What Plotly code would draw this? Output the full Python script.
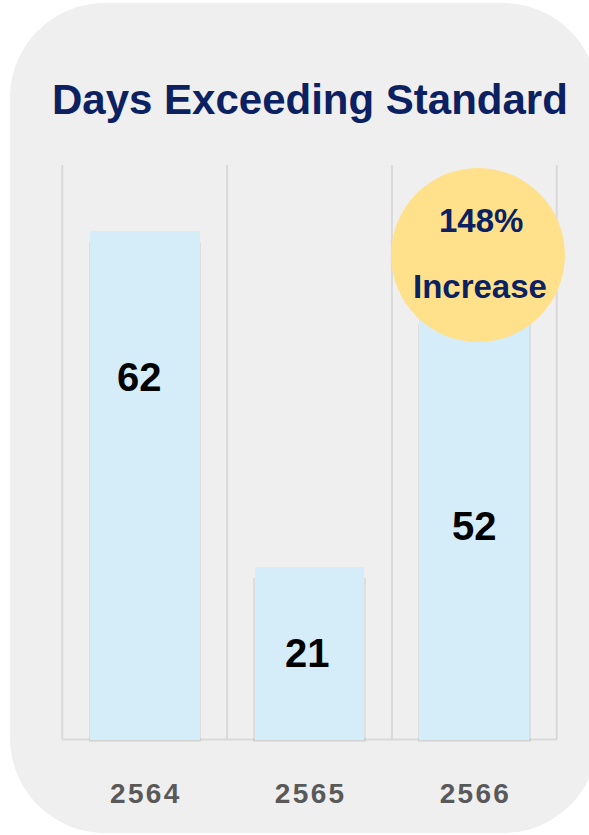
import plotly.graph_objects as go

# ---- data ----
categories = ["2564", "2565", "2566"]
values = [62, 21, 52]
badge_pct = "148%"
badge_word = "Increase"
title_text = "Days Exceeding Standard"

# ---- layout geometry (pixels) ----
FIG_W, FIG_H = 589, 835
L, R, T, B = 59, 29, 165, 93
PW = FIG_W - L - R
PH = FIG_H - T - B

def px(xp):
    return (xp - L) / PW

def py(yp):
    return (FIG_H - B - yp) / PH

def rounded_rect(x0, y0, x1, y1, r):
    k = 0.5523 * r
    def P(x, y):
        return f"{px(x):.5f},{py(y):.5f}"
    d = f"M {P(x0 + r, y0)} L {P(x1 - r, y0)} "
    d += f"C {P(x1 - r + k, y0)} {P(x1, y0 + r - k)} {P(x1, y0 + r)} "
    d += f"L {P(x1, y1 - r)} "
    d += f"C {P(x1, y1 - r + k)} {P(x1 - r + k, y1)} {P(x1 - r, y1)} "
    d += f"L {P(x0 + r, y1)} "
    d += f"C {P(x0 + r - k, y1)} {P(x0, y1 - r + k)} {P(x0, y1 - r)} "
    d += f"L {P(x0, y0 + r)} "
    d += f"C {P(x0, y0 + r - k)} {P(x0 + r - k, y0)} {P(x0 + r, y0)} Z"
    return d

NAVY = "#0B2161"
FONT = "Liberation Sans, Arial, sans-serif"
xpos = list(range(len(categories)))

fig = go.Figure()

# soft shadow behind the bars
fig.add_trace(go.Bar(
    x=xpos, y=[v - 1.0 for v in values], base=-0.35,
    width=0.682, marker=dict(color="rgba(0,0,0,0.07)", line=dict(width=0)),
    hoverinfo="skip", showlegend=False,
))
fig.add_trace(go.Bar(
    x=xpos, y=values, width=0.667,
    marker=dict(color="#D4EDF8", line=dict(width=0)),
    hoverinfo="skip", showlegend=False,
))

shapes = [
    dict(type="path", xref="paper", yref="paper", layer="below",
         path=rounded_rect(10, 3, 598, 833, 95),
         fillcolor="#EFEFEF", line=dict(width=0)),
]
# category boundary gridlines
for i in range(len(categories) + 1):
    shapes.append(dict(type="line", xref="x", yref="y", layer="below",
                       x0=i - 0.5, x1=i - 0.5, y0=0, y1=70,
                       line=dict(color="#D9D9D9", width=2)))
# baseline
shapes.append(dict(type="line", xref="x", yref="y", layer="below",
                   x0=-0.5, x1=len(categories) - 0.5, y0=0, y1=0,
                   line=dict(color="#D9D9D9", width=2)))
# badge circle
cx, cy, cr = 478, 255, 87
shapes.append(dict(type="circle", xref="paper", yref="paper", layer="above",
                   x0=px(cx - cr), x1=px(cx + cr), y0=py(cy + cr), y1=py(cy - cr),
                   fillcolor="#FFE18C", line=dict(width=0)))

annotations = [
    dict(text=title_text, xref="paper", yref="paper", x=px(310), y=py(99),
         xanchor="center", yanchor="middle", showarrow=False,
         font=dict(family=FONT, size=42, color=NAVY, weight="bold")),
    dict(text=badge_pct, xref="paper", yref="paper", x=px(481), y=py(221),
         xanchor="center", yanchor="middle", showarrow=False,
         font=dict(family=FONT, size=33, color=NAVY, weight="bold")),
    dict(text=badge_word, xref="paper", yref="paper", x=px(480), y=py(286),
         xanchor="center", yanchor="middle", showarrow=False,
         font=dict(family=FONT, size=33, color=NAVY, weight="bold")),
]
label_y = [44.2, values[1] / 2, values[2] / 2]
label_dx = [-5, -2, 0]
for i, v in enumerate(values):
    annotations.append(dict(
        text=str(v), x=xpos[i], y=label_y[i], xref="x", yref="y",
        xshift=label_dx[i], xanchor="center", yanchor="middle", showarrow=False,
        font=dict(family=FONT, size=40, color="#000000", weight="bold")))

tick_text = ["\u200a".join(c) for c in categories]

fig.update_layout(
    width=FIG_W, height=FIG_H,
    margin=dict(l=L, r=R, t=T, b=B, pad=0),
    paper_bgcolor="#FFFFFF", plot_bgcolor="rgba(0,0,0,0)",
    barmode="overlay", bargap=0, showlegend=False,
    shapes=shapes, annotations=annotations,
    xaxis=dict(range=[-0.52, 2.52], tickvals=xpos, ticktext=tick_text,
               showgrid=False, zeroline=False, showline=False, ticks="",
               ticklabelstandoff=32,
               tickfont=dict(family=FONT, size=28, color="#595959", weight="bold"),
               fixedrange=True),
    yaxis=dict(range=[-0.3, 70], showgrid=False, zeroline=False, showline=False,
               showticklabels=False, ticks="", fixedrange=True),
    hovermode=False,
)

fig.write_html(
    "out.html",
    config={"displayModeBar": False},
    post_script="document.body.style.margin='0';document.body.style.overflow='hidden';",
)
